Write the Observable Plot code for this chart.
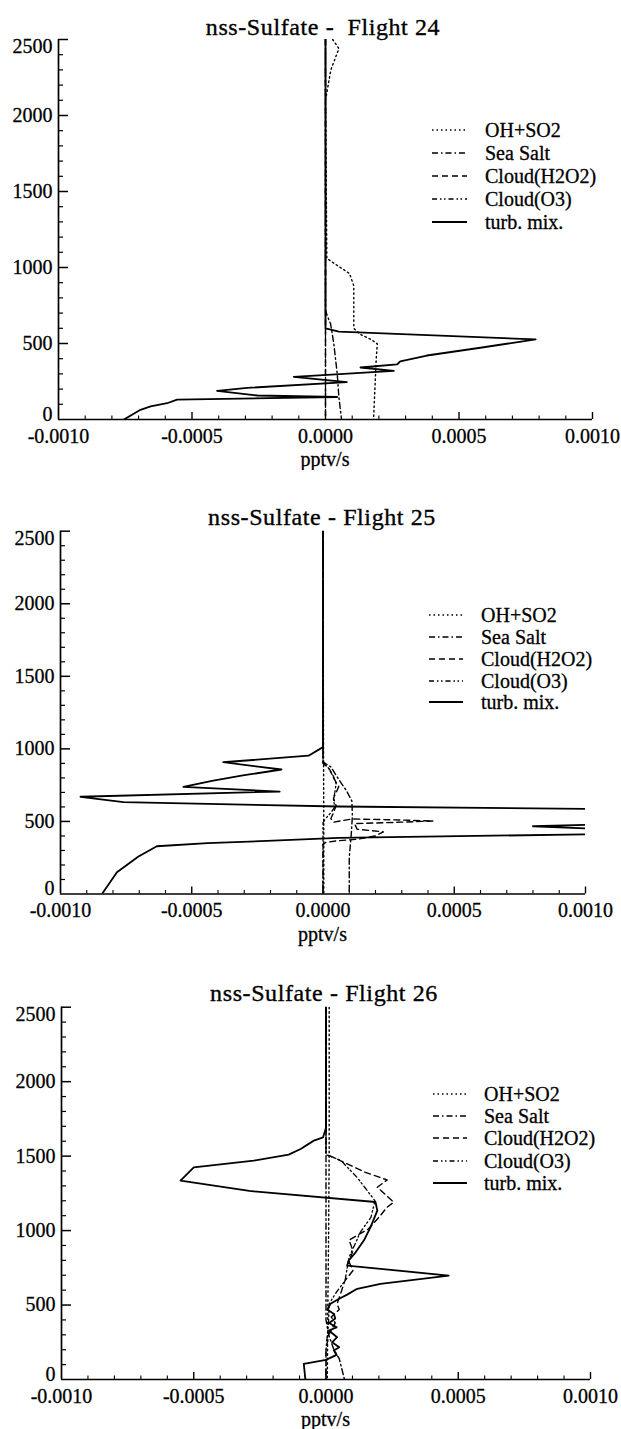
<!DOCTYPE html>
<html><head><meta charset="utf-8">
<script src="https://cdn.jsdelivr.net/npm/d3@7"></script>
<script src="https://cdn.jsdelivr.net/npm/@observablehq/plot@0.6"></script>
<style>
body{margin:0;background:#fff;}
#root{position:relative;width:621px;height:1429px;background:#fff;font-family:"Liberation Serif","DejaVu Serif",serif;color:#000;overflow:hidden}
.abs{position:absolute}
.title{font-size:24px;line-height:24px;white-space:pre;letter-spacing:0.6px;transform:translateX(-50%);-webkit-text-stroke:0.35px #000}
.lab{font-size:20px;line-height:20px;white-space:pre;-webkit-text-stroke:0.3px #000}
.xl{transform:translateX(-50%);line-height:18px}
</style></head><body><div id="root"></div>
<script>
// ---------------- DATA (value in pptv/s, altitude) ----------------
const seriesNames = ["OH+SO2", "Sea Salt", "Cloud(H2O2)", "Cloud(O3)", "turb. mix."];
const xTicks = [-0.001, -0.0005, 0, 0.0005, 0.001];
const xTickLabels = ["-0.0010", "-0.0005", "0.0000", "0.0005", "0.0010"];
const yTicks = [0, 500, 1000, 1500, 2000, 2500];
const yTickLabels = ["0", "500", "1000", "1500", "2000", "2500"];
const titles = ["nss-Sulfate -  Flight 24", "nss-Sulfate - Flight 25", "nss-Sulfate - Flight 26"];
const xLabel = "pptv/s";

// Flight 24
const f24_ohSO2 = [[0.000027,2500],[0.00005,2440],[0.00002,2300],[0,2100],[0.000003,1500],[0.000005,1060],[0.00003,1030],[0.00009,960],[0.000106,880],[0.000106,600],[0.00013,560],[0.00017,527],[0.000194,498],[0.00019,400],[0.000185,200],[0.00018,0]];
const f24_seaSalt = [[0,2500],[0,720],[0.000006,684],[0.000019,630],[0.000031,500],[0.000044,300],[0.00005,150],[0.00006,0]];
const f24_cloudH2O2 = [[0,2500],[0,0]];
const f24_cloudO3 = [[0,2500],[0,0]];
const f24_turbMix = [[0,2500],[0,600],[0.00005,578],[0.000787,527],[0.00058,472],[0.00038,421],[0.00028,382],[0.000268,362],[0.000131,342],[0.000256,320],[-0.000119,281],[0.00008,246],[-0.000293,208],[-0.000406,188],[-0.000255,158],[0.000044,148],[-0.000556,131],[-0.000593,107],[-0.000655,86],[-0.000693,64],[-0.000755,0]];

// Flight 25
const f25_ohSO2 = [[0,2500],[0.000002,1000],[0.000003,500],[0.000003,0]];
const f25_seaSalt = [[0,2500],[0,910],[0.00003,875],[0.00006,790],[0.00009,710],[0.00011,640],[0.000112,540],[0.000108,420],[0.0001,250],[0.0001,0]];
const f25_cloudH2O2 = [[0,2500],[0,905],[0.000025,860],[0.00004,800],[0.00006,740],[0.00005,700],[0.00004,660],[0.00005,610],[0.00004,560],[0.00003,520],[0.00004,495],[0.00011,517],[0.00025,512],[0.00042,503],[0.0003,495],[0.00012,485],[0.00013,446],[0.00023,428],[0.0002,400],[0.00013,377],[0.00005,366],[0.00001,355],[0,340],[0,0]];
const f25_cloudO3 = [[0,2500],[0,900],[0.00002,870],[0.00004,810],[0.00005,760],[0.000045,700],[0.00004,650],[0.000045,600],[0.00003,560],[0.00001,520],[0,490],[0,0]];
const f25_turbMix = [[0,2500],[0,1012],[-0.000055,953],[-0.00038,908],[-0.000158,858],[-0.000305,817],[-0.000418,782],[-0.000532,738],[-0.000165,706],[-0.000924,670],[-0.00076,633],[0.00006,603],[0.00105,586],[0.00105,478],[0.0008,467],[0.00105,448],[0.00105,412],[0.00006,387],[-0.00019,368],[-0.00044,350],[-0.000633,329],[-0.000703,258],[-0.000785,150],[-0.000842,0]];

// Flight 26
const f26_ohSO2 = [[0.000012,2500],[0.000012,1550],[0.00001,1000],[0.000007,500],[0.000005,0]];
const f26_seaSalt = [[0,2500],[0,400],[0.00001,300],[0.00003,200],[0.00005,140],[0.00007,0]];
const f26_cloudH2O2 = [[0,2500],[0,1510],[0.000017,1500],[0.000149,1391],[0.000231,1340],[0.000194,1291],[0.000256,1190],[0.000231,1157],[0.0002,1089],[0.00016,1010],[0.00011,960],[0.000087,935],[0.000102,866],[0.000087,790],[0.000102,732],[0.000072,664],[0.000042,508],[0.00005,470],[0.00002,420],[0.000035,380],[0.00001,300],[0,200],[0,0]];
const f26_cloudO3 = [[0,2500],[0,1510],[0.000057,1470],[0.000117,1358],[0.000185,1201],[0.00017,1089],[0.00013,990],[0.00011,910],[0.000087,821],[0.000072,664],[0.000035,575],[0.000012,508],[0.00001,400],[0.000005,300],[0,200],[0,0]];
const f26_turbMix = [[0,2500],[0,1690],[-0.000011,1626],[-0.000046,1604],[-0.000096,1548],[-0.000141,1510],[-0.000273,1470],[-0.0005,1425],[-0.00055,1336],[-0.00029,1266],[0.000187,1192],[0.000194,1134],[0.000168,1022],[0.000143,933],[0.000112,854],[0.000086,799],[0.00008,765],[0.000464,698],[0.000206,642],[0.000118,609],[0.00008,570],[0.000048,541],[0.000017,508],[0.000005,470],[0.00003,440],[0.000035,410],[0.000012,380],[0.00004,350],[0.000011,329],[0.000042,284],[0.000023,250],[0.00005,217],[0.00003,195],[0.00004,165],[0,132],[-0.000084,105],[-0.000078,0]];

const flights = [
  [f24_ohSO2, f24_seaSalt, f24_cloudH2O2, f24_cloudO3, f24_turbMix],
  [f25_ohSO2, f25_seaSalt, f25_cloudH2O2, f25_cloudO3, f25_turbMix],
  [f26_ohSO2, f26_seaSalt, f26_cloudH2O2, f26_cloudO3, f26_turbMix]
];

// ---------------- STYLE / LAYOUT ----------------
const lineStyle = {
  "OH+SO2": {dash: "1.5,3", w: 1.4},
  "Sea Salt": {dash: "6,3,1.5,3", w: 1.4},
  "Cloud(H2O2)": {dash: "6,4", w: 1.4},
  "Cloud(O3)": {dash: "5,3,1.5,2.5,1.5,3", w: 1.3},
  "turb. mix.": {dash: null, w: 1.8}
};
const panels = [
  {top: 0,   H: 470, ml: 58, mr: 29, mt: 39,   mb: 51,   titleX: 323, titleY: 15,  legX1: 432, legX2: 467, legT: 485, legY: [130,153,176,199,222], xlabY: 450},
  {top: 470, H: 480, ml: 60, mr: 36, mt: 60.7, mb: 56.5, titleX: 322, titleY: 505, legX1: 429, legX2: 463, legT: 481, legY: [615,637,659,681,702], xlabY: 925},
  {top: 950, H: 479, ml: 61, mr: 31, mt: 56.7, mb: 50,   titleX: 324, titleY: 981, legX1: 433, legX2: 467, legT: 484, legY: [1094,1116,1138,1161,1183], xlabY: 1410}
];

const root = document.getElementById("root");
const font = "'Liberation Serif','DejaVu Serif',serif";
const xMinor = d3.range(-10, 11).map(i => i / 10000).filter(v => Math.abs(Math.round(v * 10000)) % 5 !== 0);
const yMinor = d3.range(100, 2500, 100).filter(v => v % 500 !== 0);
const txt = {fontSize: 20, fontFamily: font, fill: "black", stroke: "black", strokeWidth: 0.3};

flights.forEach((series, i) => {
  const p = panels[i];
  const W = 621;
  const fw = W - p.ml - p.mr, fh = p.H - p.mt - p.mb;
  const marks = [];
  [3, 2, 1, 0, 4].forEach(k => {
    const st = lineStyle[seriesNames[k]];
    const o = {x: d => d[0], y: d => d[1], stroke: "black", strokeWidth: st.w, clip: true, strokeLinejoin: "round"};
    if (st.dash) o.strokeDasharray = st.dash;
    marks.push(Plot.line(series[k], o));
  });
  marks.push(
    Plot.ruleX([xTicks[0]], {stroke: "black", strokeWidth: 1.7}),
    Plot.ruleY([yTicks[0]], {stroke: "black", strokeWidth: 1.7}),
    Plot.tickY(yMinor, {y: d => d, insetRight: fw - 5, stroke: "black", strokeWidth: 1.2}),
    Plot.tickY(yTicks.slice(1), {y: d => d, insetRight: fw - 10, stroke: "black", strokeWidth: 1.5}),
    Plot.tickX(xMinor, {x: d => d, insetTop: fh - 3.5, stroke: "black", strokeWidth: 1.1}),
    Plot.tickX(xTicks.slice(1), {x: d => d, insetTop: fh - 7, stroke: "black", strokeWidth: 1.4}),
    Plot.text(yTicks.slice(1, 5), {y: d => d, text: d => yTickLabels[yTicks.indexOf(d)], frameAnchor: "left", textAnchor: "end", dx: -6, ...txt}),
    Plot.text([yTicks[5]], {y: d => d, text: d => yTickLabels[5], frameAnchor: "left", textAnchor: "end", dx: -6, dy: 7, ...txt}),
    Plot.text([yTicks[0]], {y: d => d, text: d => yTickLabels[0], frameAnchor: "left", textAnchor: "end", dx: -6, dy: -5, ...txt}),
    Plot.text(xTicks, {x: d => d, text: d => xTickLabels[xTicks.indexOf(d)], frameAnchor: "bottom", lineAnchor: "middle", dy: 17, ...txt})
  );
  const chart = Plot.plot({
    width: W, height: p.H,
    marginLeft: p.ml, marginRight: p.mr, marginTop: p.mt, marginBottom: p.mb,
    x: {domain: [xTicks[0], xTicks[4]], axis: null},
    y: {domain: [yTicks[0], yTicks[5]], axis: null},
    style: {fontFamily: font, fontSize: "20px", background: "white", color: "black"},
    marks
  });
  const holder = document.createElement("div");
  holder.className = "abs";
  holder.style.left = "0px";
  holder.style.top = p.top + "px";
  holder.appendChild(chart);
  root.appendChild(holder);

  const t = document.createElement("div");
  t.className = "abs title";
  t.style.left = p.titleX + "px";
  t.style.top = p.titleY + "px";
  t.textContent = titles[i];
  root.appendChild(t);

  const xl = document.createElement("div");
  xl.className = "abs lab xl";
  xl.style.left = (p.ml + fw / 2) + "px";
  xl.style.top = p.xlabY + "px";
  xl.textContent = xLabel;
  root.appendChild(xl);

  seriesNames.forEach((name, k) => {
    const st = lineStyle[name];
    const y = p.legY[k];
    const svg = d3.create("svg").attr("width", p.legX2 - p.legX1 + 2).attr("height", 8)
      .style("position", "absolute").style("left", (p.legX1 - 1) + "px").style("top", (y - 4) + "px");
    svg.append("line").attr("x1", 1).attr("x2", p.legX2 - p.legX1 + 1).attr("y1", 4).attr("y2", 4)
      .attr("stroke", "black").attr("stroke-width", st.w).attr("stroke-dasharray", st.dash || null);
    root.appendChild(svg.node());
    const lt = document.createElement("div");
    lt.className = "abs lab";
    lt.style.left = p.legT + "px";
    lt.style.top = (y - 10) + "px";
    lt.textContent = name;
    root.appendChild(lt);
  });
});
</script></body></html>
